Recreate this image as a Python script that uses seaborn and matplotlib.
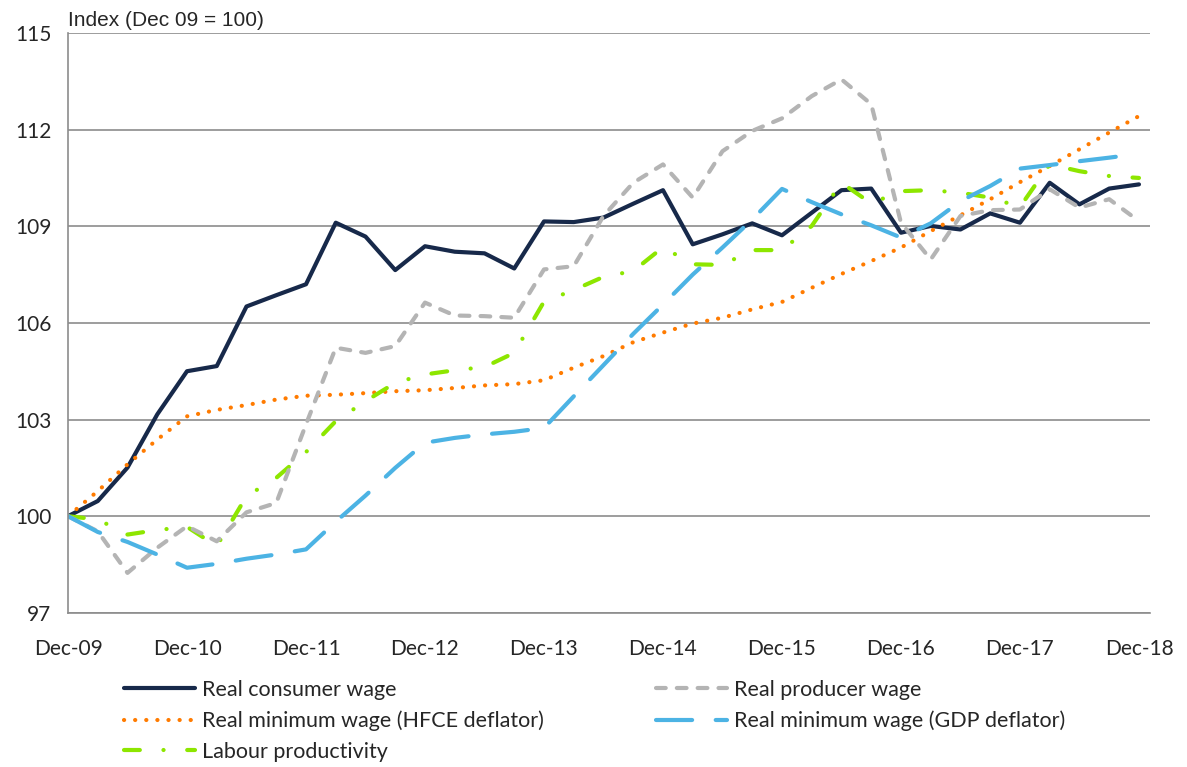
import numpy as np
import pandas as pd
import matplotlib
matplotlib.use("Agg")
import matplotlib.pyplot as plt
import seaborn as sns

# quarterly index, Dec-09 = 100
quarters = np.arange(37)
tick_labels = ["Dec-09", "Dec-10", "Dec-11", "Dec-12", "Dec-13",
               "Dec-14", "Dec-15", "Dec-16", "Dec-17", "Dec-18"]

consumer_wage = [100.0, 100.47, 101.51, 103.16, 104.50, 104.66, 106.51, 106.86, 107.20,
                 109.11, 108.68, 107.64, 108.38, 108.21, 108.16, 107.69, 109.15, 109.13,
                 109.27, 109.70, 110.12, 108.44, 108.75, 109.09, 108.72, 109.42, 110.12,
                 110.17, 108.80, 109.01, 108.90, 109.40, 109.11, 110.35, 109.68, 110.17, 110.30]
producer_wage = [100.0, 99.53, 98.24, 99.02, 99.69, 99.22, 100.12, 100.41, 102.85,
                 105.23, 105.07, 105.28, 106.63, 106.23, 106.21, 106.16, 107.66, 107.76,
                 109.32, 110.35, 110.92, 109.89, 111.33, 111.96, 112.35, 113.04, 113.56,
                 112.79, 109.11, 107.97, 109.32, 109.50, 109.52, 110.15, 109.58, 109.84, 109.16]
min_wage_hfce = [100.0, 100.78, 101.61, 102.38, 103.10, 103.30, 103.45, 103.62, 103.74,
                 103.77, 103.82, 103.88, 103.91, 103.98, 104.06, 104.10, 104.22, 104.61,
                 104.97, 105.40, 105.70, 105.98, 106.16, 106.42, 106.65, 107.09, 107.52,
                 107.92, 108.34, 108.85, 109.34, 109.84, 110.37, 110.87, 111.39, 111.91, 112.42]
min_wage_gdp = [100.0, 99.51, 99.20, 98.81, 98.40, 98.52, 98.68, 98.81, 98.97,
                99.83, 100.64, 101.50, 102.28, 102.43, 102.54, 102.62, 102.74, 103.72,
                104.69, 105.66, 106.57, 107.50, 108.34, 109.21, 110.16, 109.75, 109.37,
                109.03, 108.65, 109.09, 109.78, 110.25, 110.79, 110.90, 111.02, 111.13, 111.25]
productivity = [100.0, 99.90, 99.43, 99.57, 99.67, 99.07, 100.62, 101.19, 101.99,
                102.95, 103.57, 104.14, 104.40, 104.53, 104.63, 105.07, 106.66, 107.02,
                107.43, 107.61, 108.35, 107.82, 107.80, 108.26, 108.26, 109.01, 110.35,
                109.71, 110.09, 110.12, 110.04, 109.89, 109.60, 110.92, 110.71, 110.56, 110.50]

sns.set_style("white")
plt.rcParams["font.family"] = ["Lato", "DejaVu Sans"]
plt.rcParams["lines.scale_dashes"] = False

fig, ax = plt.subplots(figsize=(11.87, 7.67), dpi=100)
fig.subplots_adjust(left=0.0573, right=0.9688, top=0.957, bottom=0.201)

series = [
    ("Real consumer wage", consumer_wage, "#17294a", "-"),
    ("Real minimum wage (HFCE deflator)", min_wage_hfce, "#ff7b00", (0, (0.1, 7.9))),
    ("Labour productivity", productivity, "#8de600", (0, (11.4, 17, 0.1, 17))),
    ("Real producer wage", producer_wage, "#b4b4b4", (0, (7, 8))),
    ("Real minimum wage (GDP deflator)", min_wage_gdp, "#4cb3e4", (0, (26, 17))),
]

for name, vals, col, ls in series:
    sns.lineplot(x=quarters, y=vals, ax=ax, color=col, linestyle=ls, lw=3.0,
                 label=name, dash_capstyle="round", solid_capstyle="round")

ax.set_xlim(0, 36.37)
ax.set_ylim(97, 115)
ax.set_yticks([97, 100, 103, 106, 109, 112, 115])
ax.set_xticks(np.arange(0, 37, 4))
ax.set_xticklabels(tick_labels)
ax.grid(axis="y", color="#8c8c8c", lw=1.2)
ax.set_axisbelow(True)
for side in ["top", "right"]:
    ax.spines[side].set_visible(False)
for side in ["left", "bottom"]:
    ax.spines[side].set_color("#8c8c8c")
    ax.spines[side].set_linewidth(1.2)
ax.tick_params(axis="both", length=6, width=1.2, color="#8c8c8c", labelsize=15)
ax.tick_params(axis="x", pad=13)
ax.tick_params(axis="y", pad=6)
ax.set_xlabel("")
ax.set_ylabel("")
ax.text(0, 1.005, "Index (Dec 09 = 100)", transform=ax.transAxes, fontsize=15,
        family=["Liberation Sans", "DejaVu Sans"], va="bottom", ha="left")

handles, labels = ax.get_legend_handles_labels()
ax.legend_.remove()
fig.legend(handles, labels, ncol=2, loc="upper left", bbox_to_anchor=(0.097, 0.125),
           frameon=False, fontsize=15.5, handlelength=3.3, handletextpad=0.33,
           columnspacing=5.2, labelspacing=0.5, borderaxespad=0)

fig.savefig("out.png", dpi=100)
